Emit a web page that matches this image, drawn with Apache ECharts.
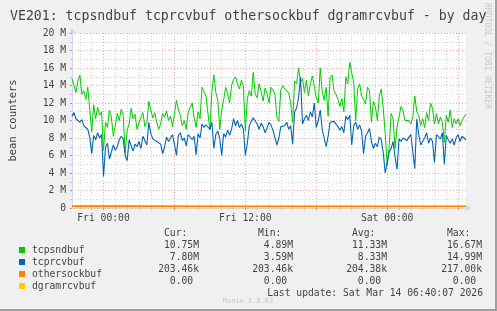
<!DOCTYPE html>
<html>
<head>
<meta charset="utf-8">
<script src="https://cdn.jsdelivr.net/npm/echarts@6/dist/echarts.min.js"></script>
<style>
html,body{margin:0;padding:0;background:#f0f0f0;}
#chart{width:497px;height:311px;}
</style>
</head>
<body>
<div id="chart"></div>
<script>
// ---- data (values in millions, 10-minute steps from Thu 21:20 to Sat 06:40) ----
var dayNames = ['Thu', 'Fri', 'Sat'];
var xTickLabels = ['Fri 00:00', 'Fri 12:00', 'Sat 00:00'];
var seriesNames = ['tcpsndbuf', 'tcprcvbuf', 'othersockbuf', 'dgramrcvbuf'];
var seriesColors = ['#00cc00', '#0066b3', '#ff8000', '#ffcc00'];

var tcpsndbuf = [
  14.8,14.0,13.2,14.5,15.2,13.0,13.4,12.4,13.8,11.3,
  8.7,11.8,10.2,11.5,10.6,11.0,6.6,9.8,9.2,11.2,
  10.3,8.2,9.4,10.8,10.0,11.3,10.6,6.3,8.9,9.6,
  11.4,10.2,10.7,9.0,9.7,10.4,10.9,9.3,9.8,12.2,
  11.2,10.3,10.9,9.8,9.0,9.6,10.8,10.4,11.1,10.0,
  10.5,9.3,10.8,12.3,11.2,10.6,9.4,10.0,9.0,11.0,
  11.5,12.0,10.3,9.2,11.0,10.2,13.8,14.0,12.8,12.9,
  8.9,13.3,15.2,13.2,12.3,9.0,11.2,12.4,13.8,13.1,
  12.0,14.0,14.7,15.0,14.2,13.6,14.6,13.9,8.8,12.5,
  13.4,12.8,15.5,13.0,12.6,14.2,13.3,12.2,13.7,13.1,
  12.0,13.8,13.5,13.0,10.4,9.9,13.5,14.0,13.6,13.8,
  13.2,12.0,9.8,14.5,14.2,16.0,14.4,14.8,13.2,14.6,
  12.8,14.2,15.1,13.9,12.6,12.0,16.0,13.4,12.3,13.8,
  10.5,14.9,15.2,13.4,13.0,12.4,11.6,12.5,11.0,15.0,
  14.2,16.67,15.4,14.4,10.0,13.6,14.2,12.8,12.4,11.9,
  13.8,13.4,9.8,12.2,11.6,10.0,12.8,13.6,11.4,8.5,
  4.89,6.9,10.8,10.2,6.8,9.3,10.4,11.6,11.2,10.0,
  9.8,10.0,9.6,10.4,12.8,11.0,10.6,9.4,10.2,9.2,
  10.9,10.0,12.0,11.4,9.6,10.8,9.6,10.4,9.8,7.5,
  10.6,9.8,11.2,9.2,10.2,9.6,10.2,9.4,10.0,10.4,10.75
];
var tcprcvbuf = [
  10.5,10.9,10.2,10.0,9.8,10.1,9.4,9.6,9.0,8.1,
  6.2,8.3,7.8,8.6,8.0,8.4,3.59,6.9,7.4,5.6,
  6.4,7.2,6.6,7.0,7.8,8.2,7.9,6.0,5.4,7.8,
  7.6,6.5,7.3,7.0,7.6,6.8,8.2,8.4,7.2,9.8,
  8.5,7.9,8.1,7.6,7.8,7.3,6.2,7.0,8.1,7.6,
  7.8,8.4,7.3,6.0,8.3,8.6,7.7,8.0,7.1,8.4,
  8.2,7.8,8.2,6.1,8.5,8.0,9.6,9.2,9.5,9.3,
  9.0,9.8,6.8,8.4,8.8,7.9,6.0,8.5,8.1,8.9,
  8.3,9.0,10.2,9.4,10.0,9.2,9.6,9.0,6.0,7.4,
  9.4,9.9,10.3,10.4,9.6,9.0,9.7,9.3,8.6,9.1,
  9.8,9.5,8.9,9.0,7.2,8.0,9.3,9.1,9.4,9.8,
  9.0,9.4,7.3,11.0,11.4,12.6,14.99,9.6,10.2,10.6,
  10.0,11.0,10.4,12.0,9.2,10.0,11.2,9.0,8.8,7.0,
  8.2,9.8,10.0,9.9,9.7,9.3,8.9,9.3,8.6,10.5,
  10.1,10.6,7.2,9.4,9.8,9.0,9.5,8.8,6.2,8.2,
  8.6,9.1,7.6,6.8,7.4,7.0,8.1,7.8,6.3,4.0,
  5.2,6.4,6.8,7.6,5.8,4.4,7.9,7.6,8.0,7.8,
  7.7,8.1,8.4,8.6,4.5,10.2,8.4,7.2,7.6,8.0,
  8.6,7.4,8.0,7.6,5.2,8.4,8.2,7.9,8.6,5.0,
  8.3,7.8,7.4,7.9,7.2,8.0,8.4,7.6,8.2,8.0,7.80
];
// [category index, value in M]
var othersockbuf = [[0,0.217],[30,0.2098],[80,0.2052],[140,0.2041],[200,0.20346]];
var dgramrcvbuf = [[0,0],[200,0]];

// legend statistics
var statHeaders = ['Cur:', 'Min:', 'Avg:', 'Max:'];
var statCur = ['10.75M', '7.80M', '203.46k', '0.00 '];
var statMin = ['4.89M', '3.59M', '203.46k', '0.00 '];
var statAvg = ['11.33M', '8.33M', '204.38k', '0.00 '];
var statMax = ['16.67M', '14.99M', '217.00k', '0.00 '];
var titleText = 'VE201: tcpsndbuf tcprcvbuf othersockbuf dgramrcvbuf - by day';
var lastUpdate = 'Last update: Sat Mar 14 06:40:07 2026';
var muninVersion = 'Munin 2.0.63';
var yName = 'bean counters';

// ---- categories (10-minute steps) ----
var categories = [];
var startMin = 21 * 60 + 20;
for (var i = 0; i < tcpsndbuf.length; i++) {
  var m = startMin + 10 * i;
  var d = Math.floor(m / 1440), r = m % 1440;
  var hh = Math.floor(r / 60), mm = r % 60;
  categories.push(dayNames[d] + ' ' + (hh < 10 ? '0' : '') + hh + ':' + (mm < 10 ? '0' : '') + mm);
}
function isHour(idx) { return /:00$/.test(categories[idx]); }
function isSixHour(idx) { var c = categories[idx]; return /( 00| 06| 12| 18):00$/.test(c); }
function isLabel(idx) { return xTickLabels.indexOf(categories[idx]) >= 0; }

var MONO = 'DejaVu Sans Mono';
var FS = 9.7;
var TXT = '#444';
var gridMinor = '#d2d2d2';
var gridMajor = '#eaa8a8';
var axisCol = '#cfd6f8';

var chart = echarts.init(document.getElementById('chart'), null, {renderer: 'canvas'});

var colRight = [199, 293, 387, 482];
var rowY = [245, 257, 269, 281];
var stats = [statCur, statMin, statAvg, statMax];
var graphics = [];
for (var c = 0; c < 4; c++) {
  graphics.push({type: 'text', x: colRight[c] - 35, y: 233, silent: true,
    style: {text: statHeaders[c], font: FS + 'px "' + MONO + '"', fill: TXT, textAlign: 'left', textVerticalAlign: 'middle'}});
  for (var rI = 0; rI < 4; rI++) {
    graphics.push({type: 'text', x: colRight[c], y: rowY[rI], silent: true,
      style: {text: stats[c][rI], font: FS + 'px "' + MONO + '"', fill: TXT, textAlign: 'right', textVerticalAlign: 'middle'}});
  }
}
graphics.push({type: 'text', x: 483, y: 293, silent: true,
  style: {text: lastUpdate, font: FS + 'px "' + MONO + '"', fill: TXT, textAlign: 'right', textVerticalAlign: 'middle'}});
graphics.push({type: 'text', x: 248, y: 301, silent: true,
  style: {text: muninVersion, font: '7px "' + MONO + '"', fill: '#c8c8c8', textAlign: 'center', textVerticalAlign: 'middle'}});
graphics.push({type: 'text', x: 487, y: 3, rotation: -Math.PI / 2, silent: true,
  style: {text: 'RRDTOOL / TOBI OETIKER', font: '8px "' + MONO + '"', fill: '#c8c8c8', textAlign: 'left', textVerticalAlign: 'middle'}});
graphics.push({type: 'rect', shape: {x: 495, y: 0, width: 2, height: 311}, style: {fill: '#a0a0a0'}, silent: true});
graphics.push({type: 'rect', shape: {x: 0, y: 309, width: 497, height: 2}, style: {fill: '#a0a0a0'}, silent: true});

var option = {
  animation: false,
  backgroundColor: '#f0f0f0',
  title: {
    text: titleText, left: 5, top: 5,
    textStyle: {fontFamily: MONO, fontSize: 13.2, fontWeight: 'normal', color: TXT}
  },
  legend: {
    orient: 'vertical', left: 14, top: 239, itemGap: 0,
    icon: 'rect', itemWidth: 6, itemHeight: 6, selectedMode: false,
    data: seriesNames,
    textStyle: {fontFamily: MONO, fontSize: FS, color: TXT, lineHeight: 12, padding: [0, 0, 0, 2]}
  },
  grid: {left: 67, right: 31, top: 33, bottom: 103, show: true, backgroundColor: '#ffffff', borderWidth: 0},
  xAxis: [{
    type: 'category', data: categories, boundaryGap: false,
    axisLine: {show: true, lineStyle: {color: axisCol, width: 1}, symbol: ['none', 'arrow'], symbolSize: [6, 6], symbolOffset: [0, 5]},
    axisTick: {show: true, length: 2, interval: function (idx) { return isHour(idx); }, lineStyle: {color: '#c8c8c8'}},
    axisLabel: {interval: function (idx) { return isLabel(idx); }, margin: 5, fontFamily: MONO, fontSize: FS, color: TXT},
    splitLine: {show: true, interval: function (idx) { return isHour(idx) && !isSixHour(idx); }, lineStyle: {color: gridMinor, type: [1, 2], width: 1}}
  }, {
    type: 'category', data: categories, boundaryGap: false, position: 'bottom',
    axisLine: {show: false}, axisLabel: {show: false},
    axisTick: {show: true, length: 2, interval: function (idx) { return isSixHour(idx); }, lineStyle: {color: '#e08080'}},
    splitLine: {show: true, interval: function (idx) { return isSixHour(idx); }, lineStyle: {color: gridMajor, type: [1, 2], width: 1}}
  }],
  yAxis: {
    type: 'value', min: 0, max: 20, interval: 2,
    name: yName, nameLocation: 'middle', nameGap: 53, nameRotate: 90,
    nameTextStyle: {fontFamily: MONO, fontSize: 10.5, color: TXT},
    axisLine: {show: true, lineStyle: {color: axisCol, width: 1}, symbol: ['none', 'arrow'], symbolSize: [6, 6], symbolOffset: [0, 5]},
    axisTick: {show: true, length: 2, lineStyle: {color: '#e08080'}},
    minorTick: {show: true, splitNumber: 2, length: 2, lineStyle: {color: '#c8c8c8'}},
    axisLabel: {margin: 6, fontFamily: MONO, fontSize: FS, color: TXT,
      formatter: function (v) { return v === 0 ? '0' : v + ' M'; }},
    splitLine: {show: true, lineStyle: {color: gridMajor, type: [1, 2], width: 1}},
    minorSplitLine: {show: true, lineStyle: {color: gridMinor, type: [1, 2], width: 1}}
  },
  series: [
    {name: seriesNames[0], type: 'line', data: tcpsndbuf, showSymbol: false, symbol: 'none', color: seriesColors[0], lineStyle: {width: 1, color: seriesColors[0]}},
    {name: seriesNames[1], type: 'line', data: tcprcvbuf, showSymbol: false, symbol: 'none', color: seriesColors[1], lineStyle: {width: 1.1, color: seriesColors[1]}},
    {name: seriesNames[2], type: 'line', data: othersockbuf, showSymbol: false, symbol: 'none', color: seriesColors[2], z: 4, lineStyle: {width: 1.6, color: seriesColors[2]}},
    {name: seriesNames[3], type: 'line', data: dgramrcvbuf, showSymbol: false, symbol: 'none', color: seriesColors[3], z: 1, lineStyle: {width: 1, color: seriesColors[3]}}
  ],
  graphic: graphics
};
chart.setOption(option);
</script>
</body>
</html>
